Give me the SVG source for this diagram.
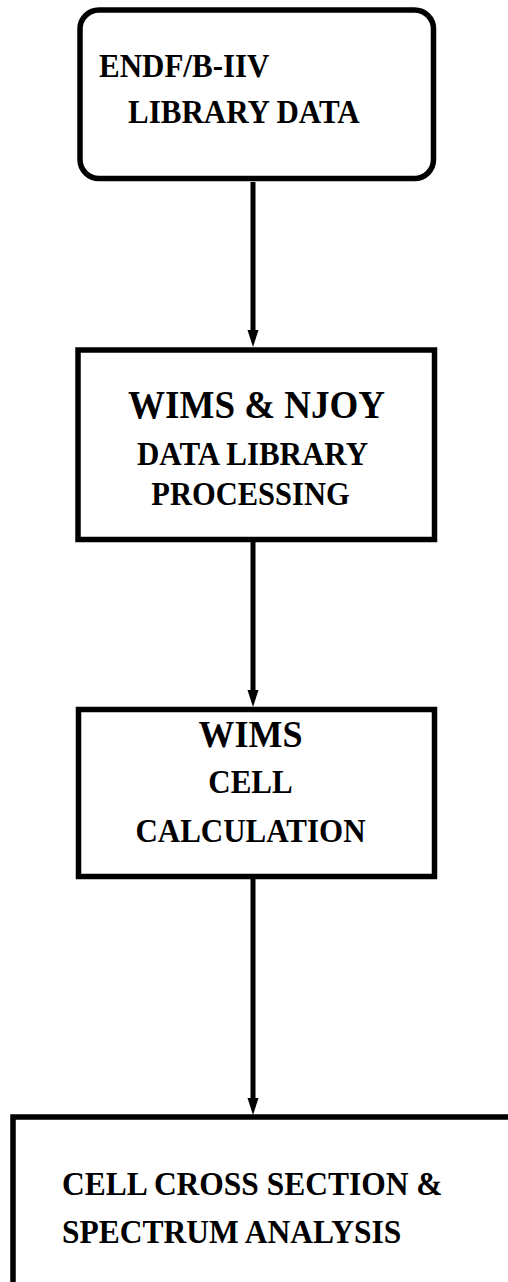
<svg xmlns="http://www.w3.org/2000/svg" width="508" height="1282" viewBox="0 0 508 1282">
  <style>
    .box { fill: #ffffff; stroke: #000000; stroke-width: 5.5; }
    .link { fill: none; stroke: #000000; stroke-width: 5; }
    .lbl { font-family: "Liberation Serif", "Times New Roman", serif; font-weight: bold; fill: #000000; }
    .mid { text-anchor: middle; }
  </style>

  <rect width="508" height="1282" fill="#ffffff"/>

  <!-- connectors: vertical shafts with solid triangular heads -->
  <g id="connectors">
    <path class="link" d="M253,182 V331"/>
    <polygon points="247.5,330 258.5,330 253,347" fill="#000000"/>
    <path class="link" d="M253,542 V692"/>
    <polygon points="247.5,690 258.5,690 253,707" fill="#000000"/>
    <path class="link" d="M253,879 V1100"/>
    <polygon points="247.5,1098 258.5,1098 253,1115" fill="#000000"/>
  </g>

  <!-- source library -->
  <g id="endf-library">
    <rect class="box" x="80" y="10" width="353.5" height="168.5" rx="19" ry="19"/>
    <text class="lbl" transform="translate(99,77) scale(1,1.07)" font-size="31">ENDF/B-IIV</text>
    <text class="lbl" transform="translate(128,123) scale(1,1.07)" font-size="31">LIBRARY DATA</text>
  </g>

  <!-- library processing -->
  <g id="library-processing">
    <rect class="box" x="78" y="350" width="356.5" height="189.5"/>
    <text class="lbl mid" transform="translate(256.5,418) scale(1,1.07)" font-size="37">WIMS &amp; NJOY</text>
    <text class="lbl mid" transform="translate(252.5,465) scale(1,1.07)" font-size="31">DATA LIBRARY</text>
    <text class="lbl mid" transform="translate(250.5,505) scale(1,1.07)" font-size="30.5">PROCESSING</text>
  </g>

  <!-- cell calculation -->
  <g id="cell-calculation">
    <rect class="box" x="78.5" y="709.5" width="356" height="167"/>
    <text class="lbl mid" transform="translate(250.5,747) scale(1,1.07)" font-size="36">WIMS</text>
    <text class="lbl mid" transform="translate(250.5,793) scale(1,1.07)" font-size="31">CELL</text>
    <text class="lbl mid" transform="translate(250.5,842) scale(1,1.07)" font-size="31">CALCULATION</text>
  </g>

  <!-- analysis output (runs off the right and bottom edges) -->
  <g id="analysis">
    <rect class="box" x="13" y="1117" width="530" height="200"/>
    <text class="lbl" transform="translate(62,1195) scale(1,1.07)" font-size="31.5">CELL CROSS SECTION &amp;</text>
    <text class="lbl" transform="translate(62,1243) scale(1,1.07)" font-size="31.5">SPECTRUM ANALYSIS</text>
  </g>
</svg>
